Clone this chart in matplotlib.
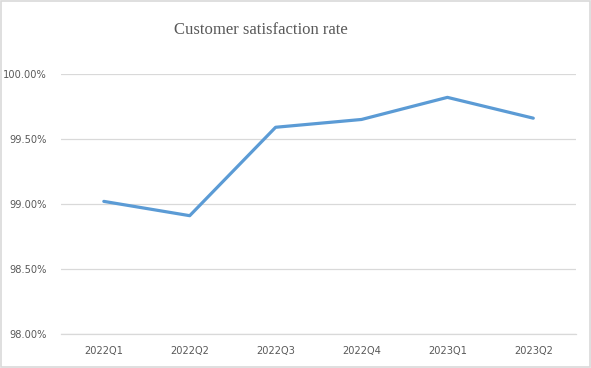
import matplotlib
matplotlib.use('Agg')
import matplotlib.pyplot as plt
from matplotlib.ticker import FuncFormatter
from matplotlib.patches import Rectangle

# quarterly satisfaction rate, in percent
quarters = ['2022Q1', '2022Q2', '2022Q3', '2022Q4', '2023Q1', '2023Q2']
rate = [99.02, 98.91, 99.59, 99.65, 99.82, 99.66]

fig = plt.figure(figsize=(5.91, 3.68), dpi=100)
ax = fig.add_axes([0.103, 0.0924, 0.872, 0.7066])

x = range(len(quarters))
ax.plot(x, rate, color='#5B9BD5', linewidth=2.3, solid_capstyle='round', zorder=3)

ax.set_xlim(-0.5, len(quarters) - 0.5)
ax.set_ylim(98.0, 100.0)
ax.set_yticks([98.0, 98.5, 99.0, 99.5, 100.0])
ax.yaxis.set_major_formatter(FuncFormatter(lambda v, _: f'{v:.2f}%'))
ax.set_xticks(list(x))
ax.set_xticklabels(quarters)

ax.grid(axis='y', color='#D9D9D9', linewidth=0.9)
ax.set_axisbelow(True)
for side in ['top', 'right', 'left']:
    ax.spines[side].set_visible(False)
ax.spines['bottom'].set_color('#D9D9D9')
ax.spines['bottom'].set_linewidth(0.9)
ax.tick_params(length=0, labelsize=7.1, labelcolor='#595959')
ax.tick_params(axis='y', pad=10)
ax.tick_params(axis='x', pad=9)

fig.text(0.442, 0.918, 'Customer satisfaction rate', ha='center', va='center',
         family='Liberation Serif', fontsize=12, color='#595959')

# light frame around the chart area
fig.patches.append(Rectangle((0.002, 0.003), 0.996, 0.994, transform=fig.transFigure,
                             fill=False, edgecolor='#D9D9D9', linewidth=1.2))

fig.savefig('out.png', dpi=100)
